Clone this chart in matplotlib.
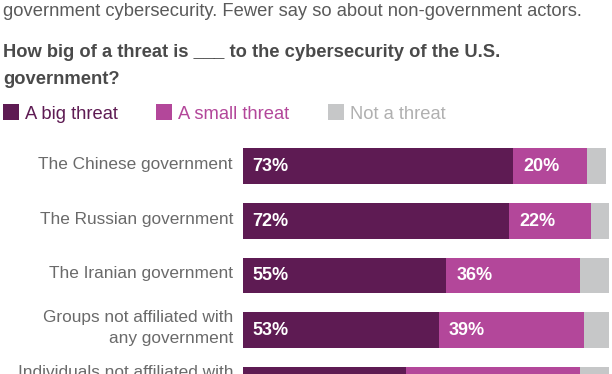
import matplotlib
matplotlib.use("Agg")
import matplotlib.pyplot as plt
from matplotlib.patches import Rectangle

categories = ["The Chinese government", "The Russian government", "The Iranian government",
              "Groups not affiliated with\nany government",
              "Individuals not affiliated with\nany government"]
big = [73, 72, 55, 53, 44]
small = [20, 22, 36, 39, 47]
not_threat = [5, 5, 8, 7, 8]
series_names = ["A big threat", "A small threat", "Not a threat"]

subtitle = "government cybersecurity. Fewer say so about non-government actors."
title_lines = ["How big of a threat is ___ to the cybersecurity of the U.S.", "government?"]

C_BIG = "#5e1b53"
C_SMALL = "#b3479a"
C_NOT = "#c6c7c8"
C_NOT_TXT = "#b0b0b0"

W, H = 612, 374
fig = plt.figure(figsize=(W / 100, H / 100), dpi=100)
plt.rcParams['font.family'] = ['Liberation Sans', 'DejaVu Sans']


def fx(x):
    return x / W


def fy(y):
    return 1 - y / H


# Header texts
fig.text(fx(3), fy(15.5), subtitle, fontsize=13.25, color="#5a5a5a", va="baseline", ha="left")
fig.text(fx(3), fy(56.7), title_lines[0], fontsize=13.2, color="#4a4a4a", fontweight="bold",
         va="baseline", ha="left")
fig.text(fx(3), fy(84.3), title_lines[1], fontsize=13.2, color="#4a4a4a", fontweight="bold",
         va="baseline", ha="left")

# Legend
leg = [(3, 25, C_BIG, C_BIG), (156, 178, C_SMALL, C_SMALL), (328, 350, C_NOT, C_NOT_TXT)]
for (sx, tx, col, tcol), name in zip(leg, series_names):
    fig.add_artist(Rectangle((fx(sx), fy(119.5)), 15.5 / W, 15.5 / H, transform=fig.transFigure,
                             facecolor=col, edgecolor="none"))
    fig.text(fx(tx), fy(119), name, fontsize=13.2, color=tcol, va="baseline", ha="left")

# Bars
x0 = 242.7
ppu = 3.705
pitch = 54.6
c0 = 166.2
ax = fig.add_axes([x0 / W, 0, 1 - x0 / W, 1])
ax.set_xlim(0, (W - x0) / ppu)
ax.set_ylim((H - c0) / pitch, -c0 / pitch)
ax.axis("off")

ys = list(range(len(categories)))
h = 35.6 / pitch
ax.barh(ys, big, height=h, color=C_BIG, edgecolor="none")
ax.barh(ys, small, left=big, height=h, color=C_SMALL, edgecolor="none")
left3 = [b + s for b, s in zip(big, small)]
ax.barh(ys, not_threat, left=left3, height=h, color=C_NOT, edgecolor="none")

pad = 10 / ppu
for i in ys:
    ax.text(pad, i + 0.01, f"{big[i]}%", color="white", fontsize=13, fontweight="bold",
            va="center", ha="left")
    ax.text(big[i] + pad, i + 0.01, f"{small[i]}%", color="white", fontsize=13,
            fontweight="bold", va="center", ha="left")
    ax.text((233 - x0) / ppu, i - 0.03, categories[i], color="#6a6a6a", fontsize=12.4,
            va="center", ha="right", linespacing=1.5, clip_on=False)

fig.savefig("out.png", dpi=100)
